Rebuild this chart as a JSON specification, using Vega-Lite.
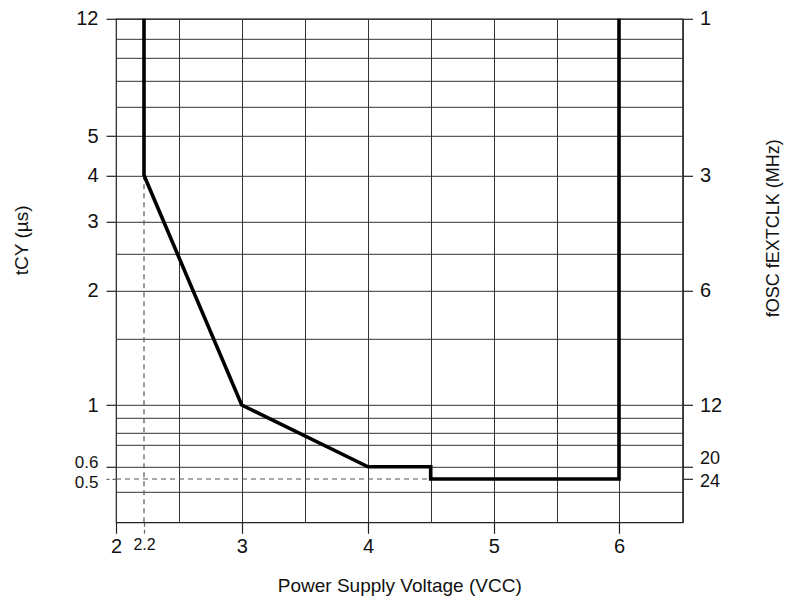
{
  "$schema": "https://vega.github.io/schema/vega-lite/v6.json",
  "width": 566.5,
  "height": 503.5,
  "autosize": {"type": "none"},
  "padding": {"left": 116, "top": 18.8, "right": 106.5, "bottom": 84.7},
  "background": "white",
  "config": {
    "view": {"stroke": "#222", "strokeWidth": 1.2},
    "font": "Liberation Sans",
    "axis": {"labelColor": "#111", "titleColor": "#111", "titleFontWeight": "normal", "labelFont": "Liberation Sans", "titleFont": "Liberation Sans", "labelOverlap": false}
  },
  "encoding": {
    "x": {
      "field": "v",
      "type": "quantitative",
      "scale": {"type": "linear", "domain": [2, 2.2, 2.5, 3, 3.5, 4, 4.5, 5, 5.5, 6, 6.5], "range": [0, 28, 63.3, 125.7, 189, 252, 314.7, 377.7, 441, 503, 566.5], "nice": false, "zero": false},
      "axis": {
        "values": [2, 2.2, 2.5, 3, 3.5, 4, 4.5, 5, 5.5, 6, 6.5],
        "grid": true,
        "gridColor": "#333",
        "gridWidth": 1,
        "gridOpacity": {"condition": {"test": "datum.value == 2.2", "value": 0}, "value": 1},
        "domain": false,
        "tickSize": 11,
        "tickWidth": 1.2,
        "tickColor": {"condition": {"test": "datum.value == 2.2", "value": "#666"}, "value": "#222"},
        "tickDash": {"condition": {"test": "datum.value == 2.2", "value": [4, 3]}, "value": []},
        "tickOpacity": {"condition": {"test": "indexof([2, 2.2, 3, 4, 5, 6], datum.value) >= 0", "value": 1}, "value": 0},
        "labelExpr": "indexof([2, 2.2, 3, 4, 5, 6], datum.value) >= 0 ? '' + datum.value : ''",
        "labelFontSize": {"condition": {"test": "datum.value == 2.2", "value": 16}, "value": 20},
        "labelOverlap": false,
        "labelPadding": 3,
        "labelFlush": false,
        "title": "Power Supply Voltage (VCC)",
        "titleFontSize": 19,
        "titlePadding": 20
      }
    }
  },
  "layer": [
    {
      "data": {"values": [
        {"v": 2, "v2": 4.5, "t": 0.5, "t2": 0.5},
        {"v": 2.2, "v2": 2.2, "t": 0.3, "t2": 4}
      ]},
      "mark": {"type": "rule", "color": "#555", "strokeWidth": 1.2, "strokeDash": [5, 4]},
      "encoding": {
        "x2": {"field": "v2"},
        "y": {
          "field": "t",
          "type": "quantitative",
          "scale": {"type": "linear", "domain": [0.3, 0.4, 0.5, 0.6, 0.7, 0.8, 0.9, 1, 1.5, 2, 2.5, 3, 4, 5, 6, 7, 8, 10, 12], "range": [503.5, 473, 460.2, 448, 426.2, 413.5, 399.2, 386.2, 320, 271.9, 234.5, 202.7, 156.5, 117.2, 87.5, 61.5, 39.2, 20.2, 0], "nice": false, "zero": false},
          "axis": {
            "orient": "right",
            "values": [12, 4, 2, 1, 0.6, 0.5],
            "grid": false,
            "domain": false,
            "tickSize": 10,
            "tickWidth": 1.2,
            "tickColor": "#222",
            "labelExpr": "'' + round(12 / datum.value)",
            "labelFontSize": {"condition": {"test": "datum.value < 0.9", "value": 18}, "value": 20},
            "labelOverlap": false,
            "labelPadding": 7,
            "labelOffset": {"condition": [{"test": "datum.value == 0.6", "value": -8}, {"test": "datum.value == 0.5", "value": 2}], "value": 0},
            "title": "fOSC fEXTCLK (MHz)",
            "titleFontSize": 18,
            "titleAngle": 270,
            "titleAlign": "center",
            "titleBaseline": "middle",
            "titleX": 90.5,
            "titleY": 209
          }
        },
        "y2": {"field": "t2"}
      }
    },
    {
      "data": {"values": [
        {"step": 1, "v": 2.2, "t": 12},
        {"step": 2, "v": 2.2, "t": 4},
        {"step": 3, "v": 3, "t": 1},
        {"step": 4, "v": 4, "t": 0.6},
        {"step": 5, "v": 4.5, "t": 0.6},
        {"step": 6, "v": 4.5, "t": 0.5},
        {"step": 7, "v": 6, "t": 0.5},
        {"step": 8, "v": 6, "t": 12}
      ]},
      "mark": {"type": "line", "color": "#000", "strokeWidth": 3.6, "strokeJoin": "miter"},
      "encoding": {
        "order": {"field": "step", "type": "quantitative"},
        "y": {
          "field": "t",
          "type": "quantitative",
          "scale": {"type": "linear", "domain": [0.3, 0.4, 0.5, 0.6, 0.7, 0.8, 0.9, 1, 1.5, 2, 2.5, 3, 4, 5, 6, 7, 8, 10, 12], "range": [503.5, 473, 460.2, 448, 426.2, 413.5, 399.2, 386.2, 320, 271.9, 234.5, 202.7, 156.5, 117.2, 87.5, 61.5, 39.2, 20.2, 0], "nice": false, "zero": false},
          "axis": {
            "orient": "left",
            "values": [12, 10, 8, 7, 6, 5, 4, 3, 2.5, 2, 1.5, 1, 0.9, 0.8, 0.7, 0.6, 0.5, 0.4],
            "grid": true,
            "gridColor": "#333",
            "gridWidth": 1,
            "gridOpacity": {"condition": {"test": "datum.value == 0.5", "value": 0}, "value": 1},
            "domain": false,
            "tickSize": 10,
            "tickWidth": 1.2,
            "tickColor": {"condition": {"test": "datum.value == 0.5", "value": "#666"}, "value": "#222"},
            "tickDash": {"condition": {"test": "datum.value == 0.5", "value": [4, 3]}, "value": []},
            "tickOpacity": {"condition": {"test": "indexof([12, 5, 4, 3, 2, 1, 0.6, 0.5], datum.value) >= 0", "value": 1}, "value": 0},
            "labelExpr": "indexof([12, 5, 4, 3, 2, 1, 0.6, 0.5], datum.value) >= 0 ? '' + datum.value : ''",
            "labelFontSize": {"condition": {"test": "datum.value < 0.9", "value": 17}, "value": 20},
            "labelOverlap": false,
            "labelOffset": {"condition": [{"test": "datum.value == 0.6", "value": -4.5}, {"test": "datum.value == 0.5", "value": 3}], "value": 0},
            "labelPadding": 8,
            "title": "tCY (µs)",
            "titleFontSize": 19,
            "titleAngle": 270,
            "titleAlign": "center",
            "titleBaseline": "middle",
            "titleX": -95,
            "titleY": 221
          }
        }
      }
    }
  ],
  "resolve": {"axis": {"y": "independent"}}
}
